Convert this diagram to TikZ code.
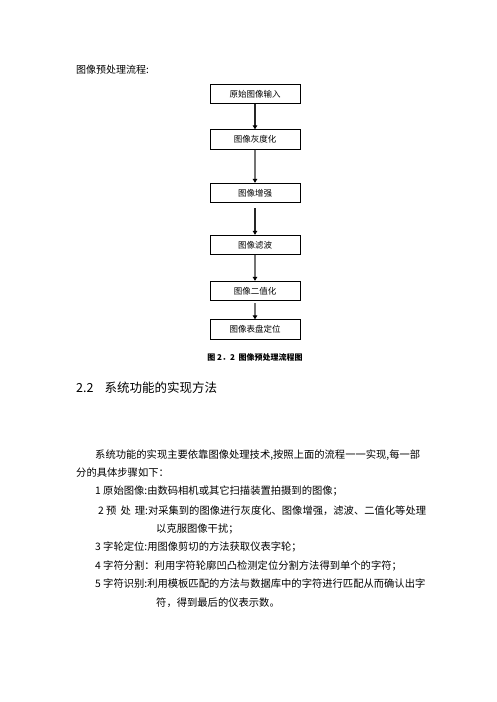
\documentclass[tikz,border=0pt]{standalone}
\usepackage{fontspec}
\setmainfont{Noto Sans CJK SC}
\usetikzlibrary{arrows.meta,positioning}

\tikzset{
  flowbox/.style={draw=black, line width=0.8pt, minimum width=90pt, minimum height=19.5pt, inner sep=0pt, font=\fontsize{8.5}{10}\selectfont},
  darkarrow/.style={draw=black!85, line width=1.6pt, -{Triangle[color=black, length=4pt, width=4.5pt]}},
  grayarrow/.style={draw=black!55, line width=1.3pt, -{Triangle[color=black, length=4pt, width=4.5pt]}},
  bodytext/.style={anchor=west, inner sep=0pt, font=\fontsize{10.3}{12}\selectfont}
}

\begin{document}
\begin{tikzpicture}[x=1pt, y=-1pt]
    \useasboundingbox [fill=white] (0, 0) rectangle (496, 702);

    \node [bodytext, font=\fontsize{10}{12}\selectfont] (head) at (76, 70) {图像预处理流程:};

    \node [flowbox] (input) at (255, 94) {原始图像输入};
    \node [flowbox] (gray) at (255, 139.5) {图像灰度化};
    \node [flowbox] (enhance) at (255, 193) {图像增强};
    \node [flowbox] (filter) at (255, 245) {图像滤波};
    \node [flowbox] (binary) at (255, 291) {图像二值化};
    \node [flowbox] (locate) at (255, 329.5) {图像表盘定位};

    \coordinate (enhanceout) at (255, 208);
    \coordinate (binaryout) at (255, 303);

    \draw [darkarrow] (input) -- (gray);
    \draw [grayarrow] (gray) -- (enhance);
    \draw [darkarrow] (enhanceout) -- (filter);
    \draw [grayarrow] (filter) -- (binary);
    \draw [grayarrow] (binaryout) -- (locate);

    \node [inner sep=0pt, font=\fontsize{8}{10}\selectfont\bfseries] (caption) at (255, 357) {图 2．2\ \ 图像预处理流程图};

    \node [bodytext, font=\fontsize{12.5}{14}\selectfont] (section) at (76, 388) {2.2\hspace{11pt}系统功能的实现方法};

    \node [bodytext] (par1) at (95, 455) {系统功能的实现主要依靠图像处理技术,按照上面的流程一一实现,每一部};
    \node [bodytext] (par2) at (76, 473) {分的具体步骤如下：};
    \node [bodytext] (step1) at (95, 491) {1 原始图像:由数码相机或其它扫描装置拍摄到的图像；};
    \node [bodytext] (step2) at (98, 511) {2 预\ \,处\ \,理:对采集到的图像进行灰度化、图像增强，滤波、二值化等处理};
    \node [bodytext] (step2b) at (156, 529) {以克服图像干扰；};
    \node [bodytext] (step3) at (95, 547) {3 字轮定位:用图像剪切的方法获取仪表字轮；};
    \node [bodytext] (step4) at (95, 566) {4 字符分割：利用字符轮廓凹凸检测定位分割方法得到单个的字符；};
    \node [bodytext] (step5) at (95, 584) {5 字符识别:利用模板匹配的方法与数据库中的字符进行匹配从而确认出字};
    \node [bodytext] (step5b) at (156, 603) {符，得到最后的仪表示数。};
\end{tikzpicture}
\end{document}
